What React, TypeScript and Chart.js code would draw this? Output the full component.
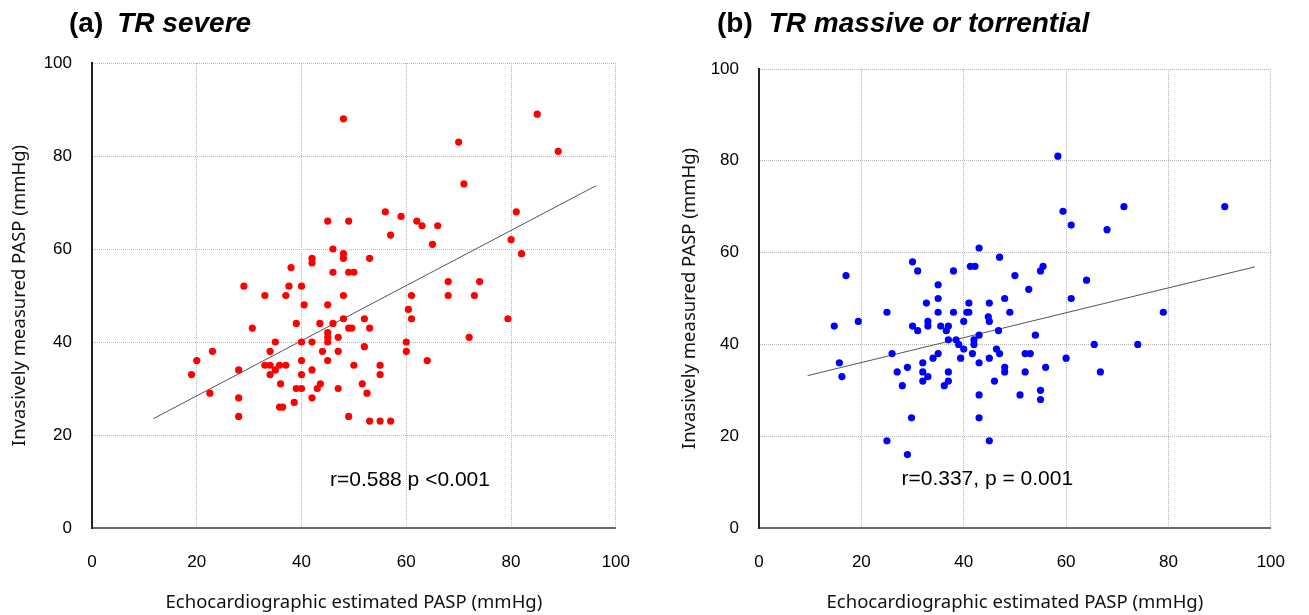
import React, { useEffect, useRef } from 'react';
import Chart from 'chart.js/auto';

// ---------- data ----------
const severeX = [48, 45, 49, 46, 48, 48, 42, 42, 38, 46, 49, 50, 29, 37.6, 40, 33, 37, 48, 85, 70, 89, 71, 56, 59, 62, 63, 66, 57, 65, 81, 80, 82, 53, 68, 74, 61, 68, 73, 40.5, 45, 39, 43.5, 46, 48, 30.6, 49, 49.6, 45, 45, 45, 47, 35, 40, 42, 23, 34, 44, 47, 20, 40, 45, 50, 28, 33, 34, 35.8, 37, 35, 42, 19, 34, 40, 36, 43.6, 43, 39, 40, 47, 22.5, 28, 42, 38.6, 35.8, 36.4, 28, 49, 60.4, 61, 79.4, 52, 53, 72, 60, 52, 60, 64, 55, 55, 51.6, 52.5, 53, 55, 57];
const severeY = [88, 66, 66, 60, 59, 58, 58, 57, 56, 55, 55, 55, 52, 52, 52, 50, 50, 50, 89, 83, 81, 74, 68, 67, 66, 65, 65, 63, 61, 68, 62, 59, 58, 53, 53, 50, 50, 50, 48, 48, 44, 44, 44, 45, 43, 43, 43, 42, 41, 40, 41, 40, 40, 40, 38, 38, 38, 38, 36, 36, 36, 35, 34, 35, 35, 35, 35, 34, 34, 33, 33, 33, 31, 31, 30, 30, 30, 30, 29, 28, 28, 27, 26, 26, 24, 24, 47, 45, 45, 45, 43, 41, 40, 39, 38, 36, 35, 33, 31, 29, 23, 23, 23];

const massiveX = [43, 30, 47, 31, 38, 41.3, 42.2, 17, 50, 35, 35, 48, 58.4, 59.4, 61, 71.3, 68, 91, 55.5, 55, 52.7, 64, 61, 32.7, 41, 45, 25, 35, 38, 40.6, 41, 49, 44.8, 19.4, 33, 40, 45, 14.7, 30, 33, 35.5, 37, 31, 36.6, 43, 46.8, 37, 38.5, 39, 42, 42, 26, 35, 40, 41.7, 46.4, 47, 39.4, 34, 45, 32, 43, 15.7, 16.2, 27, 29, 32, 37, 48, 48, 33, 28, 32, 36.2, 37, 46, 43, 29.8, 43, 25, 45, 29, 79, 54, 52, 53, 65.5, 74, 60, 52, 56, 66.7, 51, 55, 55];
const massiveY = [61, 58, 59, 56, 56, 57, 57, 55, 55, 53, 50, 50, 81, 69, 66, 70, 65, 70, 57, 56, 52, 54, 50, 49, 49, 49, 47, 47, 47, 47, 47, 47, 46, 45, 45, 45, 45, 44, 44, 44, 44, 44, 43, 43, 42, 43, 41, 41, 40, 41, 40, 38, 38, 39, 38, 39, 38, 37, 37, 37, 36, 36, 36, 33, 34, 35, 34, 34, 35, 34, 33, 31, 32, 31, 32, 32, 29, 24, 24, 19, 19, 16, 47, 42, 38, 38, 40, 40, 37, 34, 35, 34, 29, 30, 28];

const severeFitX = [11.7, 96.2];
const severeFitY = [23.5, 73.6];
const massiveFitX = [9.5, 96.9];
const massiveFitY = [33.2, 56.9];

const tickValues = [0, 20, 40, 60, 80, 100];

const severeStat = 'r=0.588 p <0.001';
const massiveStat = 'r=0.337, p = 0.001';
const xAxisTitle = 'Echocardiographic estimated PASP (mmHg)';
const yAxisTitle = 'Invasively measured PASP (mmHg)';

const tickFont = '"Liberation Sans", Arial, sans-serif';
const titleFont = '"Noto Sans", "Open Sans", sans-serif';

const statPlugin = {
  id: 'stat',
  afterDatasetsDraw(chart: any, _args: any, opts: any) {
    if (!opts || !opts.text) return;
    const { ctx, scales } = chart;
    ctx.save();
    ctx.font = `21px ${tickFont}`;
    ctx.fillStyle = '#000';
    ctx.textAlign = 'center';
    ctx.textBaseline = 'middle';
    ctx.fillText(opts.text, scales.x.getPixelForValue(opts.x), scales.y.getPixelForValue(opts.y));
    ctx.restore();
  },
};

type PanelProps = {
  left: number;
  width: number;
  height: number;
  area: { left: number; right: number; top: number; bottom: number };
  yTitlePad: number;
  xs: number[];
  ys: number[];
  fitX: number[];
  fitY: number[];
  color: string;
  stat: string;
  statX: number;
  statY: number;
};

function Panel(p: PanelProps) {
  const ref = useRef<HTMLCanvasElement | null>(null);
  useEffect(() => {
    if (!ref.current) return;
    const points = p.xs.map((x, i) => ({ x, y: p.ys[i] }));
    const fit = p.fitX.map((x, i) => ({ x, y: p.fitY[i] }));
    const chart = new Chart(ref.current, {
      type: 'scatter',
      data: {
        datasets: [
          {
            type: 'scatter',
            data: points,
            backgroundColor: p.color,
            borderColor: p.color,
            borderWidth: 0,
            pointRadius: 3.6,
            pointHoverRadius: 3.6,
            order: 1,
          },
          {
            type: 'line',
            data: fit,
            borderColor: '#555',
            borderWidth: 1,
            pointRadius: 0,
            fill: false,
            order: 2,
          } as any,
        ],
      },
      options: {
        animation: false,
        responsive: false,
        maintainAspectRatio: false,
        events: [],
        layout: { padding: { left: 0, top: p.area.top, right: p.width - p.area.right, bottom: 0 } },
        plugins: {
          legend: { display: false },
          tooltip: { enabled: false },
          stat: { text: p.stat, x: p.statX, y: p.statY },
        } as any,
        scales: {
          x: {
            type: 'linear',
            min: 0,
            max: 100,
            afterBuildTicks: (s: any) => {
              s.ticks = tickValues.map((v) => ({ value: v }));
            },
            ticks: { padding: 24, color: '#000', font: { family: tickFont, size: 17 } },
            grid: { color: '#b8b8b8', lineWidth: 1, drawTicks: false },
            border: { display: true, color: '#6a6a6a', width: 2, dash: [1, 1] },
            title: {
              display: true,
              text: xAxisTitle,
              color: '#111',
              font: { family: titleFont, size: 18.5 },
              padding: { top: 0, bottom: 1 },
            },
            afterFit: (s: any) => {
              s.height = p.height - p.area.bottom;
            },
          },
          y: {
            type: 'linear',
            min: 0,
            max: 100,
            afterBuildTicks: (s: any) => {
              s.ticks = tickValues.map((v) => ({ value: v }));
            },
            ticks: { padding: 20, color: '#000', font: { family: tickFont, size: 17 } },
            grid: { color: '#b8b8b8', lineWidth: 1, drawTicks: false },
            border: { display: true, color: '#222', width: 2, dash: [1, 1] },
            title: {
              display: true,
              text: yAxisTitle,
              color: '#111',
              font: { family: titleFont, size: 18.5 },
              padding: { top: p.yTitlePad, bottom: 0 },
            },
            afterFit: (s: any) => {
              s.width = p.area.left;
            },
          },
        },
      } as any,
      plugins: [statPlugin],
    });
    return () => chart.destroy();
  }, []);
  return (
    <canvas
      ref={ref}
      width={p.width}
      height={p.height}
      style={{ position: 'absolute', left: p.left, top: 0, width: p.width, height: p.height }}
    />
  );
}

const headStyle: React.CSSProperties = {
  position: 'absolute',
  top: 6,
  font: `bold 28px ${tickFont}`,
  lineHeight: '34px',
  whiteSpace: 'pre',
  color: '#000',
};

export default function App() {
  return (
    <div style={{ position: 'absolute', left: 0, top: 0, width: 1309, height: 615, background: '#fff', overflow: 'hidden' }}>
      <Panel
        left={0}
        width={654}
        height={615}
        area={{ left: 92, right: 619, top: 63, bottom: 528 }}
        yTitlePad={9}
        xs={severeX}
        ys={severeY}
        fitX={severeFitX}
        fitY={severeFitY}
        color="#ff0000"
        stat={severeStat}
        statX={60.7}
        statY={10.3}
      />
      <Panel
        left={654}
        width={655}
        height={615}
        area={{ left: 105, right: 628, top: 69, bottom: 528 }}
        yTitlePad={25}
        xs={massiveX}
        ys={massiveY}
        fitX={massiveFitX}
        fitY={massiveFitY}
        color="#0000ff"
        stat={massiveStat}
        statX={44.6}
        statY={10.7}
      />
      <div style={{ ...headStyle, left: 69 }}>
        (a)<span style={{ fontStyle: 'italic', marginLeft: 14 }}>TR severe</span>
      </div>
      <div style={{ ...headStyle, left: 717 }}>
        (b)<span style={{ fontStyle: 'italic', marginLeft: 16 }}>TR massive or torrential</span>
      </div>
    </div>
  );
}
